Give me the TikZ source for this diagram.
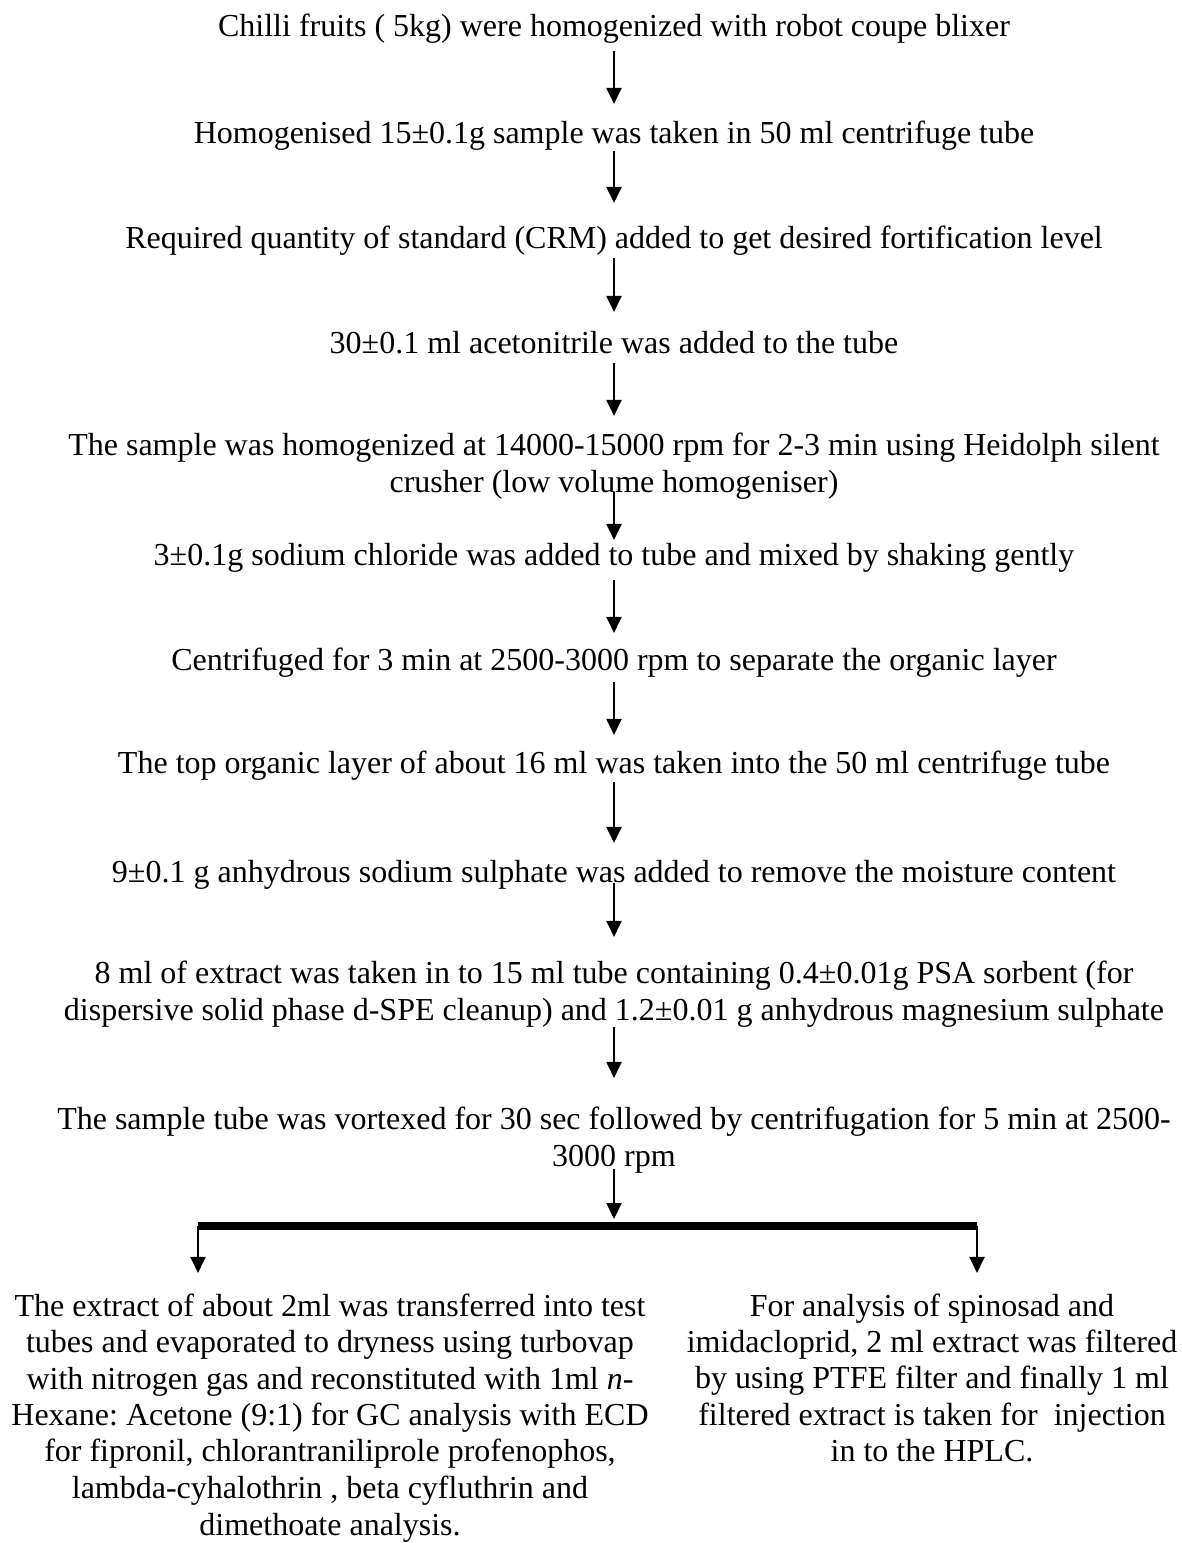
\documentclass[tikz,border=0pt]{standalone}
\usepackage{fontspec}
\setmainfont{Liberation Serif}
\usetikzlibrary{arrows.meta}
\begin{document}
\begin{tikzpicture}[y=0.5pt, x=0.5pt, yscale=-1, inner sep=0pt, outer sep=0pt,
  every node/.style={align=center, anchor=north,
    font=\fontsize{16}{18.25}\selectfont\frenchspacing,
    execute at begin node=\strut, execute at end node=\strut},
  flow/.style={draw=black, line width=1pt, -{Triangle[length=8pt,width=7.5pt]}}]
\useasboundingbox (0,0) rectangle (1182,1543);
  \node (text1) at (614,10.45) {Chilli fruits ( 5kg) were homogenized with robot coupe blixer};
  \node (text2) at (614,117.45) {Homogenised 15±0.1g sample was taken in 50 ml centrifuge tube};
  \node (text3) at (614,222.45) {Required quantity of standard (CRM) added to get desired fortification level};
  \node (text4) at (614,327.45) {30±0.1 ml acetonitrile was added to the tube};
  \node (text5) at (614,433.45) {The sample was homogenized at 14000-15000 rpm for 2-3 min using Heidolph silent\\
    crusher (low volume homogeniser)};
  \node (text6) at (614,539.45) {3±0.1g sodium chloride was added to tube and mixed by shaking gently};
  \node (text7) at (614,644.45) {Centrifuged for 3 min at 2500-3000 rpm to separate the organic layer};
  \node (text8) at (614,747.45) {The top organic layer of about 16 ml was taken into the 50 ml centrifuge tube};
  \node (text9) at (614,856.45) {9±0.1 g anhydrous sodium sulphate was added to remove the moisture content};
  \node (text10) at (614,961.45) {8 ml of extract was taken in to 15 ml tube containing 0.4±0.01g PSA sorbent (for\\
    dispersive solid phase d-SPE cleanup) and 1.2±0.01 g anhydrous magnesium sulphate};
  \node (text11) at (614,1107.45) {The sample tube was vortexed for 30 sec followed by centrifugation for 5 min at 2500-\\
    3000 rpm};
  \node (textgc) at (330,1293.45) {The extract of about 2ml was transferred into test\\
    tubes and evaporated to dryness using turbovap\\
    with nitrogen gas and reconstituted with 1ml \textit{n}-\\
    Hexane: Acetone (9:1) for GC analysis with ECD\\
    for fipronil, chlorantraniliprole profenophos,\\
    lambda-cyhalothrin , beta cyfluthrin and\\
    dimethoate analysis.};
  \node (texthplc) at (932,1293.45) {For analysis of spinosad and\\
    imidacloprid, 2 ml extract was filtered\\
    by using PTFE filter and finally 1 ml\\
    filtered extract is taken for~ injection\\
    in to the HPLC.};
  % arrows between steps
  \draw[flow, shorten <=2pt, shorten >=6.75pt] (text1) -- (text2);
  \draw[flow, shorten <=-1.5pt, shorten >=9.75pt] (text2) -- (text3);
  \draw[flow, shorten <=-0.5pt, shorten >=7.75pt] (text3) -- (text4);
  \draw[flow, shorten <=-0.5pt, shorten >=8.75pt] (text4) -- (text5);
  \draw[flow, shorten <=-5.75pt, shorten >=-0.25pt] (text5) -- (text6);
  \draw[flow, shorten <=2pt, shorten >=5.75pt] (text6) -- (text7);
  \draw[flow, shorten <=0.5pt, shorten >=6.25pt] (text7) -- (text8);
  \draw[flow, shorten <=-1pt, shorten >=6.75pt] (text8) -- (text9);
  \draw[flow, shorten <=-5pt, shorten >=12.25pt] (text9) -- (text10);
  \draw[flow, shorten <=-2.25pt, shorten >=14.75pt] (text10) -- (text11);
  % split bar
  \coordinate (barL) at (198,1226);
  \coordinate (barM) at (614,1226);
  \coordinate (barR) at (977,1226);
  \draw[flow, shorten <=-4.25pt, shorten >=3.5pt] (text11) -- (barM);
  \draw[line width=4pt] (barL) -- (barR);
  \draw[flow, shorten >=10.25pt] (barL) -- (barL |- textgc.north);
  \draw[flow, shorten >=10.25pt] (barR) -- (barR |- texthplc.north);
\end{tikzpicture}
\end{document}
